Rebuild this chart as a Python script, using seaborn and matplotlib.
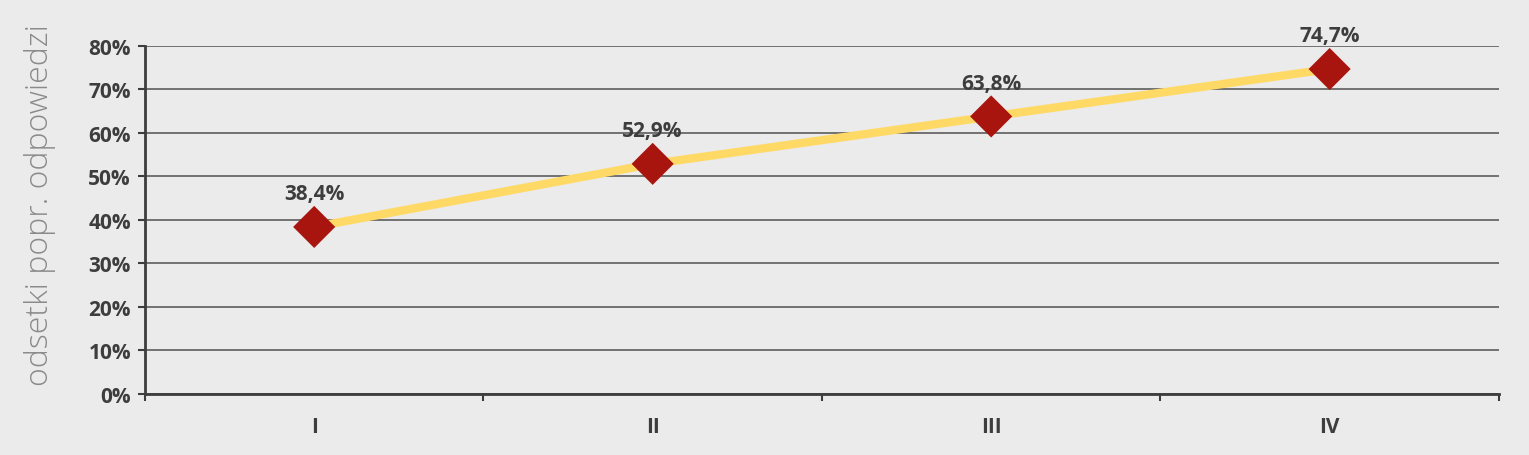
import matplotlib
matplotlib.use("Agg")
import matplotlib.pyplot as plt
import seaborn as sns
import pandas as pd
from matplotlib.ticker import FixedLocator, FuncFormatter

categories = ["I", "II", "III", "IV"]
values = [38.4, 52.9, 63.8, 74.7]
labels = ["38,4%", "52,9%", "63,8%", "74,7%"]
yticks = [0, 10, 20, 30, 40, 50, 60, 70, 80]

sns.set_theme(style="white")
plt.rcParams['font.family'] = ['Open Sans', 'DejaVu Sans']

bg = "#ebebeb"
dark = "#3d3d3d"
fig = plt.figure(figsize=(15.29, 4.56), dpi=100, facecolor=bg)
ax = fig.add_axes([0.0948, 0.1338, 0.8855, 0.7632])
ax.set_facecolor(bg)

df = pd.DataFrame({"cat": range(len(categories)), "val": values})
sns.lineplot(data=df, x="cat", y="val", ax=ax, color="#ffd966", linewidth=6, zorder=3)
sns.scatterplot(data=df, x="cat", y="val", ax=ax, marker="D", s=460, color="#a8140e",
                edgecolor="none", zorder=4)

for i, (v, t) in enumerate(zip(values, labels)):
    ax.annotate(t, (i, v), xytext=(0, 24), textcoords="offset points", ha="center",
                va="center", fontsize=15, fontweight="bold", color=dark)

ax.set_xlim(-0.5, 3.5)
ax.set_ylim(0, 80)
ax.set_yticks(yticks)
ax.yaxis.set_major_formatter(FuncFormatter(lambda v, p: f"{int(v)}%"))
ax.set_xticks(range(len(categories)))
ax.set_xticklabels(categories)
ax.xaxis.set_minor_locator(FixedLocator([-0.5, 0.5, 1.5, 2.5, 3.5]))
ax.tick_params(axis="x", which="major", bottom=False, length=0, pad=16, labelsize=15,
               labelcolor=dark)
ax.tick_params(axis="x", which="minor", bottom=True, length=5, width=1.5, color=dark,
               direction="out")
ax.tick_params(axis="y", which="major", left=True, length=5, width=1.5, color=dark,
               labelsize=15, labelcolor=dark, pad=5)
for lab in ax.get_xticklabels() + ax.get_yticklabels():
    lab.set_fontweight("bold")

ax.grid(axis="y", color="#505050", linewidth=1.1, zorder=0)
ax.set_axisbelow(True)
for s in ["top", "right"]:
    ax.spines[s].set_visible(False)
ax.spines["left"].set_color(dark)
ax.spines["left"].set_linewidth(2)
ax.spines["bottom"].set_color(dark)
ax.spines["bottom"].set_linewidth(2)

ax.set_xlabel("")
ax.set_ylabel("odsetki popr. odpowiedzi", fontsize=23, color="#8a8a8a", fontweight="light")
ax.yaxis.set_label_coords(-0.066, 0.545)

fig.savefig("out.png", dpi=100, facecolor=bg)
